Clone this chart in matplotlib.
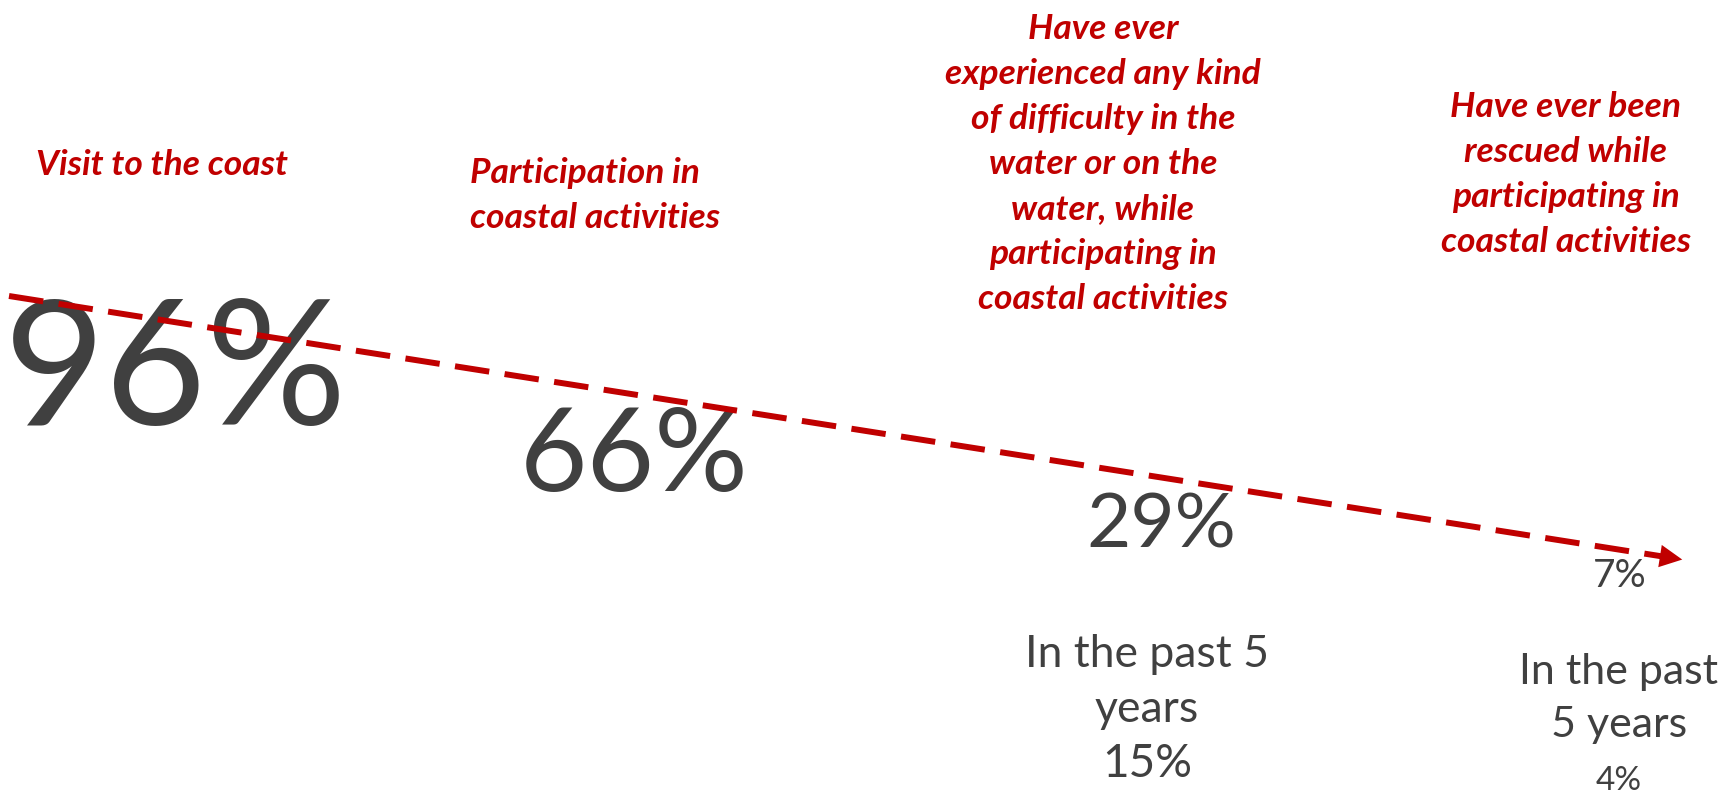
import matplotlib.pyplot as plt

# survey results
categories = [
    'Visit to the coast',
    'Participation in\ncoastal activities',
    'Have ever\nexperienced any kind\nof difficulty in the\nwater or on the\nwater, while\nparticipating in\ncoastal activities',
    'Have ever been\nrescued while\nparticipating in\ncoastal activities',
]
ever_pct = [96, 66, 29, 7]
past5_text = [None, None, 'In the past 5\nyears', 'In the past\n5 years']
past5_pct = [None, None, 15, 4]

RED = '#C00000'
GREY = '#404040'
FONT = 'Lato'

# layout in pixels of the 1729x793 canvas (y grows downwards)
value_x = [176, 634, 1161, 1620]
value_base = [425, 491, 548, 587]
value_size = [126, 84, 55, 28]

label_x = [36, 470, 1103, 1566]
label_ha = ['left', 'left', 'center', 'center']
label_y0 = [165, 173, 29, 107]
label_pitch = 45
label_size = 25.5

sub_x = [None, None, 1147, 1619]
sub_y0 = [None, None, 667, 684]
sub_pitch = [None, None, 55, 53]
sub_size = [None, None, 32, 31]
sub_pct_size = [None, None, 33, 24]

fig = plt.figure(figsize=(17.29, 7.93), dpi=100)
ax = fig.add_axes([0, 0, 1, 1])
ax.set_xlim(0, 1729)
ax.set_ylim(793, 0)
ax.axis('off')

# dashed trend arrow
start = (9, 296)
end = (1685, 560)
slope = (end[1] - start[1]) / (end[0] - start[0])
line_end_x = end[0] - 24
ax.plot([start[0], line_end_x], [start[1], start[1] + slope * (line_end_x - start[0])],
        color=RED, lw=4.3, dashes=(5.8, 2.6), solid_capstyle='butt', zorder=3)
back_x = end[0] - 18
ax.annotate('', xy=end, xytext=(back_x, end[1] - slope * 18),
            arrowprops=dict(arrowstyle='-|>,head_length=0.9,head_width=0.45',
                            mutation_scale=18, color=RED, lw=0), zorder=3)

# big percentages
for i, v in enumerate(ever_pct):
    ax.text(value_x[i], value_base[i], f'{v}%', ha='center', va='baseline',
            fontsize=value_size[i], color=GREY, family=FONT, zorder=2)

# red category labels
for i, lab in enumerate(categories):
    for j, line in enumerate(lab.split('\n')):
        ax.text(label_x[i], label_y0[i] + j * label_pitch, line, ha=label_ha[i], va='center',
                fontsize=label_size, color=RED, fontweight='bold', fontstyle='italic', family=FONT)

# "in the past 5 years" notes
for i, txt in enumerate(past5_text):
    if txt is None:
        continue
    lines = txt.split('\n')
    for j, line in enumerate(lines):
        ax.text(sub_x[i], sub_y0[i] + j * sub_pitch[i], line, ha='center', va='baseline',
                fontsize=sub_size[i], color=GREY, family=FONT)
    ax.text(sub_x[i], sub_y0[i] + len(lines) * sub_pitch[i], f'{past5_pct[i]}%',
            ha='center', va='baseline', fontsize=sub_pct_size[i], color=GREY, family=FONT)

fig.savefig('out.png', dpi=100)
